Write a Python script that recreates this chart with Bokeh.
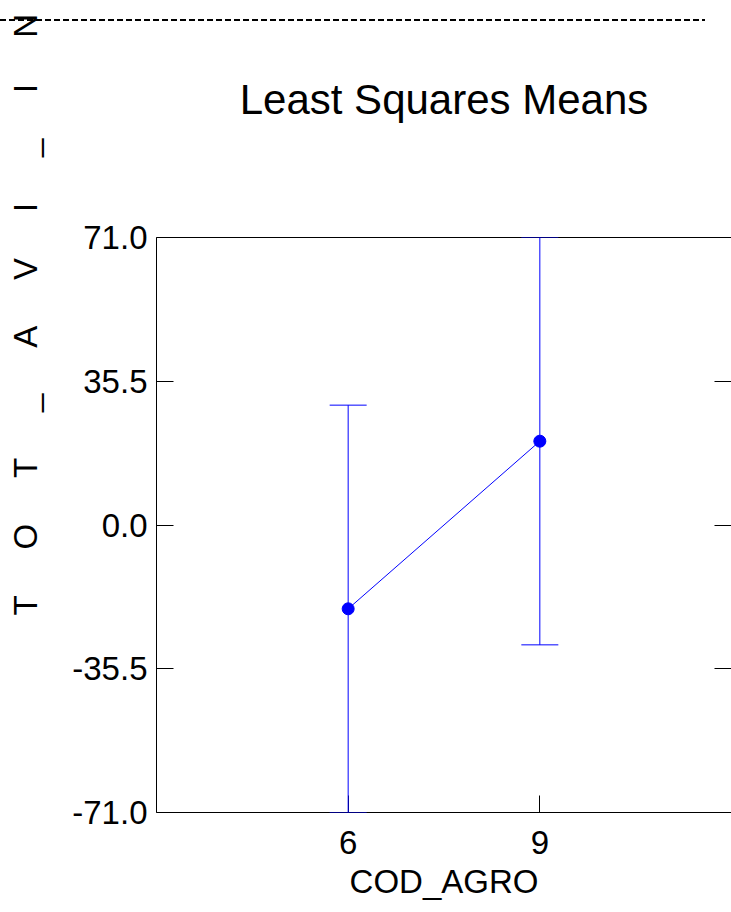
import math
from bokeh.plotting import figure
from bokeh.models import (ColumnDataSource, Whisker, TeeHead, FixedTicker, LinearAxis,
                          NumeralTickFormatter, Range1d, Title)
from bokeh.embed import file_html
from bokeh.resources import INLINE

# ---- data ----
groups = [6, 9]
means = [-20.7, 20.7]
lower = [-71.0, -29.6]
upper = [29.6, 71.0]
y_ticks = [-71.0, -35.5, 0.0, 35.5, 71.0]
x_ticks = [6, 9]
x_limits = [3, 12]
y_limits = [-71.0, 71.0]
title_text = "Least Squares Means"
x_title = "COD_AGRO"
y_title = "TOT_AVI_IN"

FONT = "Liberation Sans"
BLUE = "#0000FF"
SHIFT = 18  # canvas starts this many px left of the page edge (empty white strip)

p = figure(width=731 + SHIFT, height=912, output_backend="svg", toolbar_location=None,
           x_range=Range1d(*x_limits), y_range=Range1d(*y_limits), title=None,
           min_border_left=156 + SHIFT, min_border_right=0, min_border_top=237,
           min_border_bottom=100)
p.margin = (0, 0, 0, -SHIFT)
p.grid.visible = False
p.outline_line_color = None
p.background_fill_color = "white"
p.border_fill_color = None
# dashed rule across the top of the page (outside the plot frame)
p.styles = {
    "background-color": "white",
    "background-image": "repeating-linear-gradient(to right, #000 0px, #000 6px, transparent 6px, transparent 9px)",
    "background-size": "705px 2px",
    "background-position": f"{SHIFT}px 19px",
    "background-repeat": "no-repeat",
}

for ax in (p.xaxis[0], p.yaxis[0]):
    ax.axis_line_color = "black"
    ax.axis_line_width = 1
    ax.major_tick_line_color = "black"
    ax.major_tick_in = 17
    ax.major_tick_out = 0
    ax.minor_tick_line_color = None
    ax.major_label_text_font = FONT
    ax.major_label_text_font_size = "33px"
    ax.major_label_text_color = "black"

p.yaxis.ticker = FixedTicker(ticks=y_ticks)
p.yaxis.formatter = NumeralTickFormatter(format="0.0")
p.yaxis.major_label_standoff = 9
p.xaxis.ticker = FixedTicker(ticks=x_ticks)
p.xaxis.major_label_standoff = 18
p.xaxis.axis_label = x_title
p.xaxis.axis_label_text_font = FONT
p.xaxis.axis_label_text_font_size = "33px"
p.xaxis.axis_label_text_font_style = "normal"
p.xaxis.axis_label_text_color = "black"
p.xaxis.axis_label_standoff = 6

right = LinearAxis(ticker=FixedTicker(ticks=y_ticks), axis_line_color=None,
                   major_tick_in=17, major_tick_out=0, major_tick_line_color="black",
                   minor_tick_line_color=None, major_label_standoff=0,
                   major_label_overrides={t: "" for t in y_ticks})
p.add_layout(right, "right")

top = LinearAxis(ticker=FixedTicker(ticks=[]), axis_line_color="black",
                 major_tick_in=0, major_tick_out=0, minor_tick_line_color=None,
                 major_label_standoff=0, axis_label=title_text,
                 axis_label_text_font=FONT, axis_label_text_font_size="42px",
                 axis_label_text_font_style="normal", axis_label_text_color="black",
                 axis_label_standoff=115)
p.add_layout(top, "above")

src = ColumnDataSource(dict(x=groups, mean=means, lower=lower, upper=upper))
w = Whisker(base="x", upper="upper", lower="lower", source=src,
            line_color=BLUE, line_width=1, level="overlay",
            upper_head=TeeHead(size=37, line_color=BLUE, line_width=1),
            lower_head=TeeHead(size=37, line_color=BLUE, line_width=1))
p.add_layout(w)
p.line("x", "mean", source=src, line_color=BLUE, line_width=1)
p.scatter("x", "mean", source=src, size=12, fill_color=BLUE, line_color=BLUE)

ytxt = ("\u00a0" * 5).join(y_title)
p.add_layout(Title(text=ytxt, align="left", vertical_align="top", offset=197, standoff=47,
                   text_font=FONT, text_font_size="33px", text_font_style="normal",
                   text_color="black"), "left")

open("out.html", "w").write(file_html(p, INLINE))
